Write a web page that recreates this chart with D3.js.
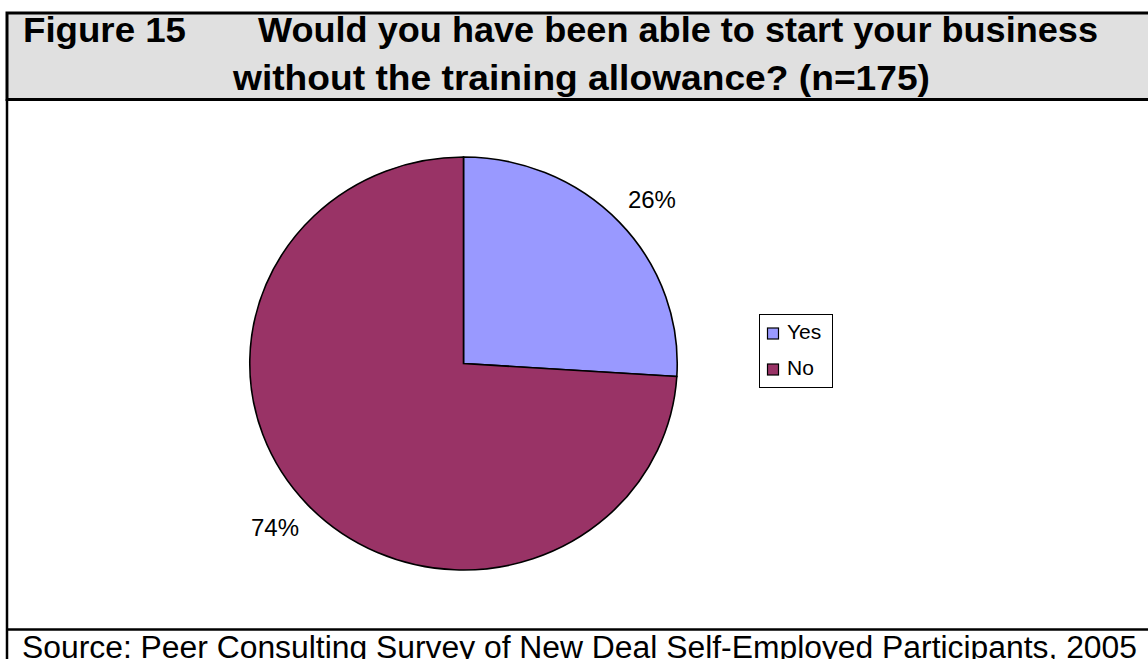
<!DOCTYPE html>
<html>
<head>
<meta charset="utf-8">
<script src="https://cdn.jsdelivr.net/npm/d3@7"></script>
<style>
  html, body { margin: 0; padding: 0; background: #fff; overflow: hidden; }
  svg { display: block; font-family: Arial, "Liberation Sans", sans-serif; }
</style>
</head>
<body>
<svg id="chart" width="1148" height="659"></svg>
<script>
// Survey answers, percent of respondents
const categories = ["Yes", "No"];
const shares = [26, 74];
const colors = ["#9999FF", "#993366"];
const titleLine1a = "Figure 15";
const titleLine1b = "Would you have been able to start your business";
const titleLine2 = "without the training allowance? (n=175)";
const sourceNote = "Source: Peer Consulting Survey of New Deal Self-Employed Participants, 2005";

const svg = d3.select("#chart");

// Title banner
svg.append("rect")
  .attr("x", 7).attr("y", 13)
  .attr("width", 1160).attr("height", 86.5)
  .attr("fill", "#e0e0e0")
  .attr("stroke", "#000").attr("stroke-width", 3);

const titleG = svg.append("g")
  .attr("font-weight", "bold").attr("font-size", 35).attr("fill", "#000");
titleG.append("text").attr("x", 23).attr("y", 42)
  .attr("textLength", 163).attr("lengthAdjust", "spacingAndGlyphs")
  .text(titleLine1a);
titleG.append("text").attr("x", 258).attr("y", 42)
  .attr("textLength", 840).attr("lengthAdjust", "spacingAndGlyphs")
  .text(titleLine1b);
titleG.append("text").attr("x", 233).attr("y", 90)
  .attr("textLength", 697).attr("lengthAdjust", "spacingAndGlyphs")
  .text(titleLine2);

// Chart frame: left edge and the rule above the source note
svg.append("line")
  .attr("x1", 7).attr("x2", 7).attr("y1", 99).attr("y2", 662)
  .attr("stroke", "#000").attr("stroke-width", 2.5);
svg.append("line")
  .attr("x1", 7).attr("x2", 1160).attr("y1", 629.5).attr("y2", 629.5)
  .attr("stroke", "#000").attr("stroke-width", 2.5);

svg.append("text")
  .attr("x", 22).attr("y", 658)
  .attr("font-size", 31)
  .attr("textLength", 1115).attr("lengthAdjust", "spacingAndGlyphs")
  .text(sourceNote);

// Pie
const cx = 463.5, cy = 363.5, r = 206.5, sx = 1.035;
const data = categories.map((c, i) => ({ cat: c, value: shares[i], color: colors[i] }));
const pie = d3.pie().value(d => d.value).sort(null);
const arcs = pie(data);
const arc = d3.arc().innerRadius(0).outerRadius(r);

const pieG = svg.append("g")
  .attr("transform", `translate(${cx},${cy}) scale(${sx},1)`);
pieG.selectAll("path")
  .data(arcs)
  .join("path")
  .attr("d", arc)
  .attr("fill", d => d.data.color)
  .attr("stroke", "#000")
  .attr("stroke-width", 1.6)
  .attr("vector-effect", "non-scaling-stroke");

// Percentage labels outside the slices, nudged slightly clockwise
const labelArc = d3.arc().innerRadius(250).outerRadius(250);
const nudge = 0.037;
svg.append("g")
  .selectAll("text")
  .data(arcs)
  .join("text")
  .each(function(d) {
    const c = labelArc.centroid({ startAngle: d.startAngle + nudge, endAngle: d.endAngle + nudge });
    d3.select(this).attr("x", cx + c[0]).attr("y", cy + c[1] + 8.5);
  })
  .attr("text-anchor", "middle")
  .attr("font-size", 24)
  .attr("fill", "#000")
  .text(d => d.data.value + "%");

// Legend
const legend = svg.append("g");
legend.append("rect")
  .attr("x", 759.5).attr("y", 314.5).attr("width", 73).attr("height", 73)
  .attr("fill", "#fff").attr("stroke", "#000").attr("stroke-width", 1);
const rowY = d3.scalePoint().domain(categories).range([339, 375]);
const item = legend.selectAll("g.item")
  .data(data)
  .join("g").attr("class", "item");
item.append("rect")
  .attr("x", 767.5).attr("y", d => rowY(d.cat) - 11)
  .attr("width", 11).attr("height", 11)
  .attr("fill", d => d.color).attr("stroke", "#000").attr("stroke-width", 1.2);
item.append("text")
  .attr("x", 787).attr("y", d => rowY(d.cat))
  .attr("font-size", 21)
  .text(d => d.cat);
</script>
</body>
</html>
